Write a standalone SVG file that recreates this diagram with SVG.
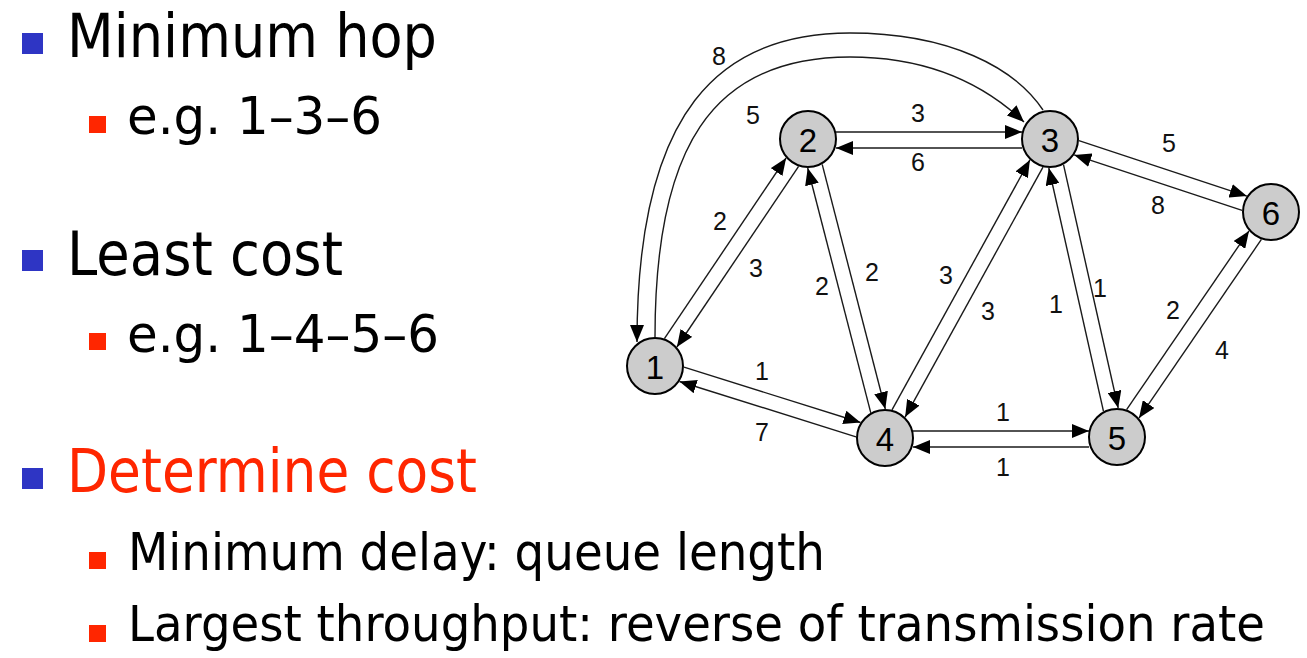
<svg xmlns="http://www.w3.org/2000/svg" width="1307" height="658" viewBox="0 0 1307 658">
<style>
.t1{font-family:"DejaVu Sans","Liberation Sans",sans-serif;font-size:60px;fill:#000}
.t2{font-family:"DejaVu Sans","Liberation Sans",sans-serif;font-size:52px;fill:#000}
.t3{font-family:"DejaVu Sans","Liberation Sans",sans-serif;font-size:50px;fill:#000}
.red{fill:#FF2600}
.b1{fill:#2E35C4}
.b2{fill:#FF2600}
.edge{fill:none;stroke:#1a1a1a;stroke-width:1.4}
.arr{marker-end:url(#ah)}
.lbl{font-family:"Liberation Sans",Arial,sans-serif;font-size:25px;fill:#111;text-anchor:middle;dominant-baseline:central}
.node circle{fill:#cccccc;stroke:#000;stroke-width:2}
.node text{font-family:"Liberation Sans",Arial,sans-serif;font-size:33px;fill:#000;text-anchor:middle;dominant-baseline:central}
</style>
<defs>
<marker id="ah" markerUnits="userSpaceOnUse" viewBox="0 0 17 14" markerWidth="17" markerHeight="14" refX="17" refY="7" orient="auto">
<path d="M0,0 L17,7 L0,14 z" fill="#000"/>
</marker>
</defs>
<rect width="1307" height="658" fill="#fff"/>

<g id="bullets">
<rect class="b1" x="22" y="33" width="21" height="21"/>
<text class="t1" x="67" y="57" textLength="370" lengthAdjust="spacingAndGlyphs">Minimum hop</text>
<rect class="b2" x="89" y="116" width="17" height="17"/>
<text class="t2" x="127" y="134" textLength="255" lengthAdjust="spacingAndGlyphs">e.g. 1–3–6</text>
<rect class="b1" x="22" y="250" width="21" height="21"/>
<text class="t1" x="67" y="275" textLength="276" lengthAdjust="spacingAndGlyphs">Least cost</text>
<rect class="b2" x="89" y="333" width="17" height="17"/>
<text class="t2" x="127" y="352" textLength="312" lengthAdjust="spacingAndGlyphs">e.g. 1–4–5–6</text>
<rect class="b1" x="22" y="468" width="21" height="21"/>
<text class="t1 red" x="67" y="492" textLength="410" lengthAdjust="spacingAndGlyphs">Determine cost</text>
<rect class="b2" x="89" y="552" width="17" height="17"/>
<text class="t2" x="128" y="570" textLength="697" lengthAdjust="spacingAndGlyphs">Minimum delay: queue length</text>
<rect class="b2" x="89" y="625" width="17" height="17"/>
<text class="t3" x="128" y="641" textLength="1137" lengthAdjust="spacingAndGlyphs">Largest throughput: reverse of transmission rate</text>
</g>

<g id="connectors">
<path class="edge arr" d="M1043,110 C1015,68 950,33 850,33 C720,33 637,110 637,342"/>
<path class="edge arr" d="M655,337 C655,150 710,57 850,57 C930,57 985,85 1024,122"/>
<path class="edge arr" d="M836,132 L1022,132"/>
<path class="edge arr" d="M1022,148 L836,148"/>
<path class="edge arr" d="M664.4,338.6 L786.1,158"/>
<path class="edge arr" d="M798.6,166.4 L676.9,347"/>
<path class="edge arr" d="M822.2,164.3 L885.3,409"/>
<path class="edge arr" d="M870.8,412.8 L807.7,168"/>
<path class="edge arr" d="M892,409.9 L1029.9,159.9"/>
<path class="edge arr" d="M1043,167.1 L905.1,417.1"/>
<path class="edge arr" d="M1063.5,164.7 L1118.2,408"/>
<path class="edge arr" d="M1103.5,411.3 L1048.8,168"/>
<path class="edge arr" d="M1078.9,140.7 L1246.8,196.1"/>
<path class="edge arr" d="M1242.1,210.3 L1074.2,154.9"/>
<path class="edge arr" d="M1126.6,409.7 L1249,230.9"/>
<path class="edge arr" d="M1261.4,239.4 L1139,418.1"/>
<path class="edge arr" d="M684,367.2 L860.5,422.5"/>
<path class="edge arr" d="M856,436.8 L679.5,381.5"/>
<path class="edge arr" d="M913,431 L1089,431"/>
<path class="edge arr" d="M1089,447 L913,447"/>
</g>

<g id="edge-labels">
<text class="lbl" x="719" y="56">8</text>
<text class="lbl" x="753" y="115">5</text>
<text class="lbl" x="918" y="113">3</text>
<text class="lbl" x="918" y="162">6</text>
<text class="lbl" x="720" y="221">2</text>
<text class="lbl" x="756" y="268">3</text>
<text class="lbl" x="822" y="286">2</text>
<text class="lbl" x="872" y="272">2</text>
<text class="lbl" x="946" y="275">3</text>
<text class="lbl" x="988" y="311">3</text>
<text class="lbl" x="1056" y="304">1</text>
<text class="lbl" x="1100" y="288">1</text>
<text class="lbl" x="1169" y="143">5</text>
<text class="lbl" x="1158" y="205">8</text>
<text class="lbl" x="1173" y="310">2</text>
<text class="lbl" x="1222" y="350">4</text>
<text class="lbl" x="762" y="371">1</text>
<text class="lbl" x="762" y="432">7</text>
<text class="lbl" x="1003" y="412">1</text>
<text class="lbl" x="1003" y="467">1</text>
</g>

<g id="node1" class="node"><circle cx="655" cy="366" r="28"/><text x="655" y="367">1</text></g>
<g id="node2" class="node"><circle cx="808" cy="139" r="28"/><text x="808" y="140">2</text></g>
<g id="node3" class="node"><circle cx="1050" cy="139" r="28"/><text x="1050" y="140">3</text></g>
<g id="node4" class="node"><circle cx="885" cy="438" r="28"/><text x="885" y="439">4</text></g>
<g id="node5" class="node"><circle cx="1117" cy="437" r="28"/><text x="1117" y="438">5</text></g>
<g id="node6" class="node"><circle cx="1271" cy="212" r="28"/><text x="1271" y="213">6</text></g>
</svg>
